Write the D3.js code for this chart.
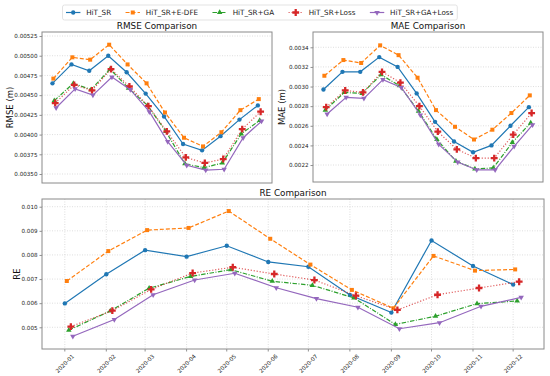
<!DOCTYPE html>
<html>
<head>
<meta charset="utf-8">
<script src="https://cdn.jsdelivr.net/npm/d3@7"></script>
<style>
  body { margin: 0; background: #fff; }
  svg { font-family: "DejaVu Sans", sans-serif; display: block; }
</style>
</head>
<body>
<div id="chart"></div>
<script>
// Monthly comparison of five model variants (RMSE, MAE, RE)

const months = ['2020-01', '2020-02', '2020-03', '2020-04', '2020-05', '2020-06',
                '2020-07', '2020-08', '2020-09', '2020-10', '2020-11', '2020-12'];
const models = ['HiT_SR', 'HiT_SR+E-DFE', 'HiT_SR+GA', 'HiT_SR+Loss', 'HiT_SR+GA+Loss'];

const rmseHit    = [0.00465, 0.00489, 0.00481, 0.00500, 0.00479, 0.00452, 0.00423, 0.00388, 0.00380, 0.00398, 0.00419, 0.00437];
const rmseEdfe   = [0.00471, 0.00498, 0.00495, 0.00514, 0.00489, 0.00465, 0.00428, 0.00396, 0.00385, 0.00403, 0.00431, 0.00445];
const rmseGa     = [0.00443, 0.00465, 0.00457, 0.00483, 0.00459, 0.00437, 0.00404, 0.00363, 0.00358, 0.00364, 0.00401, 0.00418];
const rmseLoss   = [0.00440, 0.00463, 0.00456, 0.00483, 0.00461, 0.00436, 0.00404, 0.00371, 0.00364, 0.00369, 0.00407, 0.00429];
const rmseGaLoss = [0.00434, 0.00458, 0.00450, 0.00473, 0.00457, 0.00429, 0.00391, 0.00361, 0.00355, 0.00356, 0.00396, 0.00417];

const maeHit     = [0.00297, 0.00315, 0.00315, 0.00330, 0.00320, 0.00293, 0.00264, 0.00244, 0.00233, 0.00240, 0.00260, 0.00279];
const maeEdfe    = [0.00311, 0.00327, 0.00324, 0.00342, 0.00332, 0.00309, 0.00276, 0.00259, 0.00246, 0.00256, 0.00273, 0.00291];
const maeGa      = [0.00276, 0.00294, 0.00293, 0.00312, 0.00301, 0.00275, 0.00246, 0.00224, 0.00216, 0.00217, 0.00243, 0.00263];
const maeLoss    = [0.00279, 0.00296, 0.00294, 0.00315, 0.00304, 0.00280, 0.00254, 0.00236, 0.00227, 0.00227, 0.00251, 0.00273];
const maeGaLoss  = [0.00272, 0.00289, 0.00288, 0.00307, 0.00299, 0.00271, 0.00241, 0.00223, 0.00215, 0.00215, 0.00239, 0.00261];

const reHit      = [0.00599, 0.00720, 0.00820, 0.00793, 0.00838, 0.00771, 0.00751, 0.00634, 0.00561, 0.00860, 0.00754, 0.00677];
const reEdfe     = [0.00692, 0.00816, 0.00903, 0.00912, 0.00982, 0.00867, 0.00760, 0.00655, 0.00579, 0.00796, 0.00735, 0.00740];
const reGa       = [0.00488, 0.00568, 0.00662, 0.00711, 0.00739, 0.00691, 0.00674, 0.00622, 0.00512, 0.00546, 0.00598, 0.00609];
const reLoss     = [0.00503, 0.00569, 0.00657, 0.00725, 0.00749, 0.00721, 0.00696, 0.00631, 0.00572, 0.00635, 0.00663, 0.00689];
const reGaLoss   = [0.00463, 0.00532, 0.00635, 0.00696, 0.00724, 0.00664, 0.00619, 0.00583, 0.00494, 0.00519, 0.00587, 0.00624];

const rmseTicks = [0.00350, 0.00375, 0.00400, 0.00425, 0.00450, 0.00475, 0.00500, 0.00525];
const maeTicks  = [0.0022, 0.0024, 0.0026, 0.0028, 0.0030, 0.0032, 0.0034];
const reTicks   = [0.005, 0.006, 0.007, 0.008, 0.009, 0.010];

// matplotlib tab10 look
const styles = [
    {color: '#1f77b4', dash: null,            symbol: d3.symbolCircle,   size: 15, rot: 0,   opacity: 1},
    {color: '#ff7f0e', dash: '4,2',           symbol: d3.symbolSquare,   size: 16, rot: 0,   opacity: 1},
    {color: '#2ca02c', dash: '4.5,1.5,1,1.5', symbol: d3.symbolTriangle, size: 13, rot: 0,   opacity: 1},
    {color: '#d62728', dash: '1.2,1.8',       symbol: d3.symbolCross,    size: 26, rot: 0,   opacity: 0.75},
    {color: '#9467bd', dash: null,            symbol: d3.symbolTriangle, size: 13, rot: 180, opacity: 1}
];

const W = 550, H = 376;
const svg = d3.select('#chart').append('svg')
    .attr('width', W)
    .attr('height', H);

const parseMonth = d3.timeParse('%Y-%m');
const dates = months.map(parseMonth);
const dodgeMs = 36 * 3600 * 1000;   // each series nudged 1.5 days right

function drawPanel(cfg) {
    const {x0, x1, y0, y1} = cfg.box;
    const first = +dates[0], last = +dates[dates.length - 1];
    const spanMs = (last - first) + 4 * dodgeMs;
    const padMs = 0.05 * spanMs;

    const x = d3.scaleTime()
        .domain([new Date(first - padMs), new Date(last + 4 * dodgeMs + padMs)])
        .range([x0, x1]);
    const y = d3.scaleLinear()
        .domain(cfg.yDomain)
        .range([y1, y0]);

    const g = svg.append('g');

    // grid
    g.append('g')
        .selectAll('line')
        .data(cfg.yTicks)
        .enter().append('line')
        .attr('x1', x0).attr('x2', x1)
        .attr('y1', d => y(d)).attr('y2', d => y(d))
        .attr('stroke', '#d0d0d0')
        .attr('stroke-width', 0.7)
        .attr('stroke-dasharray', '1,1.5');

    if (cfg.xAxis) {
        g.append('g')
            .selectAll('line')
            .data(dates)
            .enter().append('line')
            .attr('x1', d => x(d)).attr('x2', d => x(d))
            .attr('y1', y0).attr('y2', y1)
            .attr('stroke', '#d0d0d0')
            .attr('stroke-width', 0.7)
            .attr('stroke-dasharray', '1,1.5');
    }

    // y axis
    const yAxis = g.append('g')
        .attr('transform', `translate(${x0},0)`)
        .call(d3.axisLeft(y).tickValues(cfg.yTicks).tickFormat(d3.format(cfg.yFmt)).tickSize(2.5).tickPadding(2));
    yAxis.select('.domain').remove();
    yAxis.selectAll('line').attr('stroke', '#444').attr('stroke-width', 0.6);
    yAxis.selectAll('text')
        .style('font-size', '5.6px')
        .style('font-family', '"DejaVu Sans", sans-serif')
        .attr('fill', '#222');

    // x axis (bottom panel only)
    if (cfg.xAxis) {
        const xa = g.append('g');
        xa.selectAll('line')
            .data(dates)
            .enter().append('line')
            .attr('x1', d => x(d)).attr('x2', d => x(d))
            .attr('y1', y1).attr('y2', y1 + 2.5)
            .attr('stroke', '#444')
            .attr('stroke-width', 0.6);
        xa.selectAll('text')
            .data(months)
            .enter().append('text')
            .attr('transform', (d, i) => `translate(${x(dates[i])},${y1 + 14.5}) rotate(-45)`)
            .attr('text-anchor', 'middle')
            .attr('dominant-baseline', 'central')
            .style('font-size', '5.6px')
            .attr('fill', '#222')
            .text(d => d);
    }

    // series
    cfg.series.forEach((vals, i) => {
        const st = styles[i];
        const px = j => x(new Date(+dates[j] + i * dodgeMs));
        const line = d3.line()
            .x((d, j) => px(j))
            .y(d => y(d));

        g.append('path')
            .datum(vals)
            .attr('d', line)
            .attr('fill', 'none')
            .attr('stroke', st.color)
            .attr('stroke-width', 1.2)
            .attr('stroke-opacity', st.opacity)
            .attr('stroke-dasharray', st.dash);

        g.append('g')
            .selectAll('path')
            .data(vals)
            .enter().append('path')
            .attr('d', d3.symbol().type(st.symbol).size(st.size))
            .attr('transform', (d, j) => `translate(${px(j)},${y(d)}) rotate(${st.rot})`)
            .attr('fill', st.color);
    });

    // frame
    g.append('rect')
        .attr('x', x0).attr('y', y0)
        .attr('width', x1 - x0).attr('height', y1 - y0)
        .attr('fill', 'none')
        .attr('stroke', '#8a8a8a')
        .attr('stroke-width', 1);

    // title
    g.append('text')
        .attr('x', (x0 + x1) / 2)
        .attr('y', y0 - 3.5)
        .attr('text-anchor', 'middle')
        .style('font-size', '8.8px')
        .attr('fill', '#111')
        .text(cfg.title);

    // y label
    g.append('text')
        .attr('transform', `translate(${cfg.labelX},${(y0 + y1) / 2}) rotate(-90)`)
        .attr('text-anchor', 'middle')
        .attr('dominant-baseline', 'central')
        .style('font-size', '8.5px')
        .attr('fill', '#111')
        .text(cfg.ylabel);
}

drawPanel({
    box: {x0: 42, x1: 272, y0: 32, y1: 183},
    yDomain: [0.003386, 0.005301],
    yTicks: rmseTicks, yFmt: '.5f',
    series: [rmseHit, rmseEdfe, rmseGa, rmseLoss, rmseGaLoss],
    title: 'RMSE Comparison', ylabel: 'RMSE (m)', labelX: 9.5,
    xAxis: false
});

drawPanel({
    box: {x0: 313, x1: 543, y0: 32, y1: 182},
    yDomain: [0.002027, 0.003556],
    yTicks: maeTicks, yFmt: '.4f',
    series: [maeHit, maeEdfe, maeGa, maeLoss, maeGaLoss],
    title: 'MAE Comparison', ylabel: 'MAE (m)', labelX: 282,
    xAxis: false
});

drawPanel({
    box: {x0: 42, x1: 544, y0: 199, y1: 349},
    yDomain: [0.0041, 0.01032],
    yTicks: reTicks, yFmt: '.3f',
    series: [reHit, reEdfe, reGa, reLoss, reGaLoss],
    title: 'RE Comparison', ylabel: 'RE', labelX: 16.5,
    xAxis: true
});

// legend
const legend = svg.append('g');
const fs = 7.2, handle = 14.4, pad = 5.8, colGap = 14.4;
let lx = 66;
const ly = 12.5;
models.forEach((name, i) => {
    const st = styles[i];
    const it = legend.append('g');
    it.append('line')
        .attr('x1', lx).attr('x2', lx + handle)
        .attr('y1', ly).attr('y2', ly)
        .attr('stroke', st.color)
        .attr('stroke-width', 1.2)
        .attr('stroke-opacity', st.opacity)
        .attr('stroke-dasharray', st.dash);
    it.append('path')
        .attr('d', d3.symbol().type(st.symbol).size(st.size))
        .attr('transform', `translate(${lx + handle / 2},${ly}) rotate(${st.rot})`)
        .attr('fill', st.color);
    const t = it.append('text')
        .attr('x', lx + handle + pad)
        .attr('y', ly)
        .attr('dominant-baseline', 'central')
        .style('font-size', fs + 'px')
        .attr('fill', '#222')
        .text(name);
    lx += handle + pad + t.node().getComputedTextLength() + colGap;
});
legend.insert('rect', ':first-child')
    .attr('x', 62.5).attr('y', 5)
    .attr('width', lx - colGap + 4 - 62.5)
    .attr('height', 15)
    .attr('rx', 2)
    .attr('fill', '#fff')
    .attr('stroke', '#dcdcdc')
    .attr('stroke-width', 0.8);
</script>
</body>
</html>
